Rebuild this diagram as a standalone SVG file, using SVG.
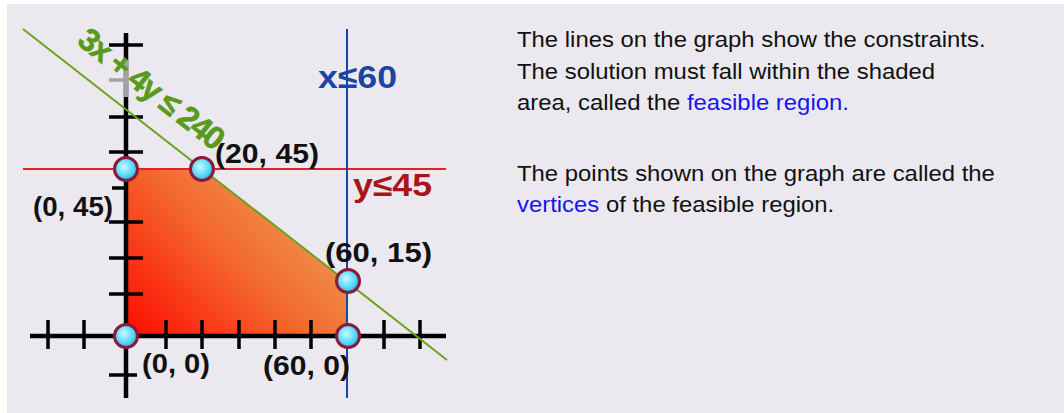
<svg xmlns="http://www.w3.org/2000/svg" width="1064" height="413" viewBox="0 0 1064 413">
  <defs>
    <linearGradient id="feas" x1="126" y1="336" x2="300" y2="170" gradientUnits="userSpaceOnUse">
      <stop offset="0" stop-color="#ff0a00"/>
      <stop offset="0.55" stop-color="#f3692f"/>
      <stop offset="1" stop-color="#ee9f55"/>
    </linearGradient>
    <radialGradient id="dot" cx="0.42" cy="0.4" r="0.6">
      <stop offset="0" stop-color="#c8f8ff"/>
      <stop offset="0.6" stop-color="#5fdcfb"/>
      <stop offset="1" stop-color="#27b8ea"/>
    </radialGradient>
    <style>
      .axis { stroke: #000; stroke-width: 4.5; fill: none; }
      .tick { stroke: #000; stroke-width: 3.5; fill: none; }
      .vtx { fill: url(#dot); stroke: #8a1a3c; stroke-width: 3; }
      .coord { font-family: "Liberation Sans", Arial, sans-serif; font-weight: bold; font-size: 27px; fill: #111; }
      .cons { font-family: "Liberation Sans", Arial, sans-serif; font-weight: bold; font-size: 32px; }
      .body { font-family: "Liberation Sans", Arial, sans-serif; font-size: 22px; fill: #111; }
      .link { fill: #1616f0; }
    </style>
  </defs>

  <rect x="0" y="0" width="1064" height="413" fill="#ffffff"/>
  <rect x="7" y="4" width="1057" height="409" fill="#ebe9ef"/>

  <g id="feasible-region">
    <polygon points="126,169 202,169 348,283 348,336 126,336" fill="url(#feas)"/>
  </g>

  <g id="axes">
    <line class="axis" x1="126" y1="33" x2="126" y2="398"/>
    <line class="axis" x1="30" y1="336" x2="446" y2="336"/>
    <line x1="126" y1="60" x2="126" y2="97" stroke="#a2a2a2" stroke-width="4.5"/>
    <g class="tick">
      <line x1="109" y1="45" x2="143" y2="45"/>
      <line x1="109" y1="117" x2="143" y2="117"/>
      <line x1="109" y1="152" x2="143" y2="152"/>
      <line x1="112" y1="188" x2="126" y2="188"/>
      <line x1="109" y1="222" x2="143" y2="222"/>
      <line x1="109" y1="258" x2="143" y2="258"/>
      <line x1="109" y1="294" x2="143" y2="294"/>
      <line x1="109" y1="375" x2="137" y2="375"/>
      <line x1="48" y1="320" x2="48" y2="349"/>
      <line x1="84" y1="320" x2="84" y2="349"/>
      <line x1="166" y1="320" x2="166" y2="349"/>
      <line x1="202" y1="320" x2="202" y2="349"/>
      <line x1="239" y1="320" x2="239" y2="349"/>
      <line x1="275" y1="320" x2="275" y2="349"/>
      <line x1="311" y1="320" x2="311" y2="349"/>
      <line x1="384" y1="320" x2="384" y2="349"/>
      <line x1="420" y1="320" x2="420" y2="349"/>
    </g>
    <line x1="109" y1="80" x2="126" y2="80" stroke="#a2a2a2" stroke-width="3.5"/>
  </g>

  <g id="connectors">
    <line id="c-y45" x1="23" y1="169" x2="446" y2="169" stroke="#e42126" stroke-width="2"/>
    <line id="c-x60" x1="347" y1="29" x2="347" y2="398" stroke="#1c44a6" stroke-width="2"/>
    <line id="c-3x4y" x1="23" y1="29" x2="447" y2="360" stroke="#6aa21c" stroke-width="2"/>
  </g>

  <g id="label-3x4y">
    <text class="cons" fill="#5a9a1a" stroke="#5a9a1a" stroke-width="0.6" font-size="30" text-anchor="middle" transform="translate(145,97.5) rotate(38)" textLength="176" lengthAdjust="spacing">3x + 4y ≤ 240</text>
  </g>
  <g id="label-x60">
    <text class="cons" fill="#1c44a6" x="318" y="88" textLength="79" lengthAdjust="spacingAndGlyphs">x≤60</text>
  </g>
  <g id="label-y45">
    <text class="cons" fill="#a8141a" x="353" y="196" textLength="79" lengthAdjust="spacingAndGlyphs">y≤45</text>
  </g>

  <g id="v-0-45">
    <circle class="vtx" cx="126" cy="169" r="11.5"/>
    <text class="coord" x="33" y="216" textLength="80" lengthAdjust="spacingAndGlyphs">(0, 45)</text>
  </g>
  <g id="v-20-45">
    <circle class="vtx" cx="202" cy="169" r="11.5"/>
    <text class="coord" x="215" y="163" textLength="104" lengthAdjust="spacingAndGlyphs">(20, 45)</text>
  </g>
  <g id="v-60-15">
    <circle class="vtx" cx="348" cy="281" r="11.5"/>
    <text class="coord" x="325" y="262" textLength="107" lengthAdjust="spacingAndGlyphs">(60, 15)</text>
  </g>
  <g id="v-60-0">
    <circle class="vtx" cx="348" cy="336" r="11.5"/>
    <text class="coord" x="263" y="375" textLength="87" lengthAdjust="spacingAndGlyphs">(60, 0)</text>
  </g>
  <g id="v-0-0">
    <circle class="vtx" cx="126" cy="336" r="11.5"/>
    <text class="coord" x="142" y="373" textLength="68" lengthAdjust="spacingAndGlyphs">(0, 0)</text>
  </g>

  <g id="explanation" transform="translate(517,0) scale(1.086,1)">
    <text class="body" x="0" y="47">The lines on the graph show the constraints.</text>
    <text class="body" x="0" y="79">The solution must fall within the shaded</text>
    <text class="body" x="0" y="110">area, called the <tspan class="link">feasible region.</tspan></text>
    <text class="body" x="0" y="181">The points shown on the graph are called the</text>
    <text class="body" x="0" y="212"><tspan class="link">vertices</tspan> of the feasible region.</text>
  </g>
</svg>
